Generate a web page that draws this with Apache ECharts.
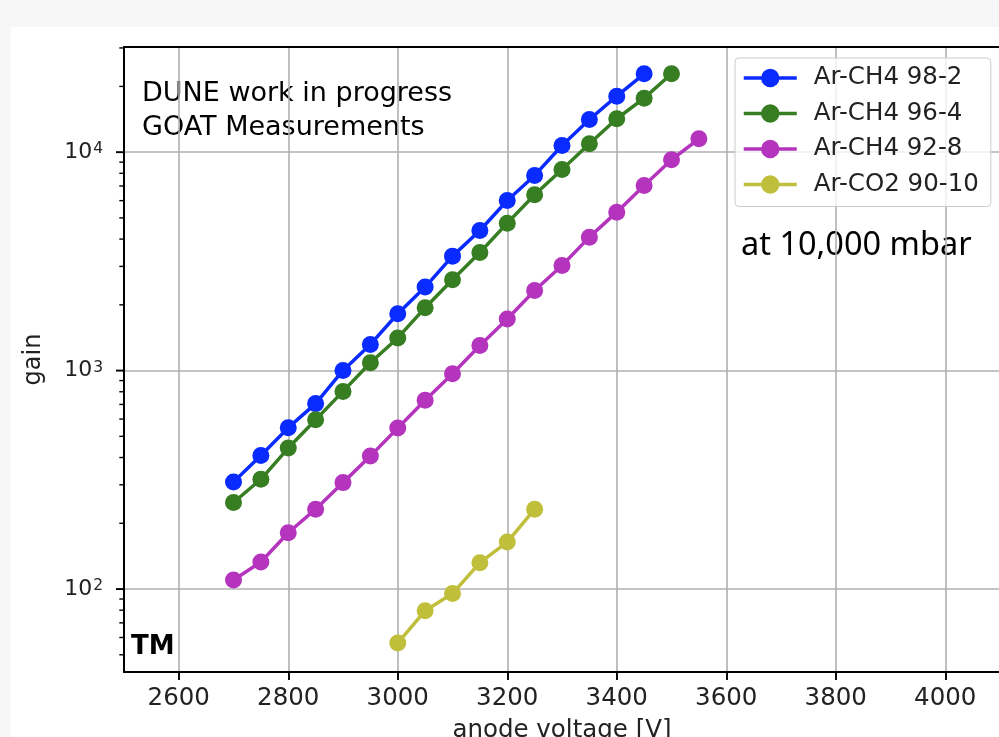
<!DOCTYPE html>
<html><head><meta charset="utf-8">
<script src="https://cdn.jsdelivr.net/npm/echarts@6/dist/echarts.min.js"></script>
<style>
html,body{margin:0;padding:0;background:#f7f7f7;overflow:hidden;}
#bg{position:absolute;left:11px;top:27px;width:988px;height:710px;background:#fff;}
#chart{position:absolute;left:0;top:0;width:999px;height:737px;}
</style></head><body>
<div id="bg"></div><div id="chart"></div>
<script>
// ---- data ----
const seriesNames = ['Ar-CH4 98-2', 'Ar-CH4 96-4', 'Ar-CH4 92-8', 'Ar-CO2 90-10'];
const volt982 = [2700,2750,2800,2850,2900,2950,3000,3050,3100,3150,3200,3250,3300,3350,3400,3450];
const gain982 = [309,409,548,706,1002,1318,1821,2411,3342,4381,6009,7824,10733,14115,18046,22848];
const volt964 = [2700,2750,2800,2850,2900,2950,3000,3050,3100,3150,3200,3250,3300,3350,3400,3450,3500];
const gain964 = [249,318,442,596,803,1087,1411,1941,2606,3475,4732,6383,8333,10925,14219,17667,22848];
const volt928 = [2700,2750,2800,2850,2900,2950,3000,3050,3100,3150,3200,3250,3300,3350,3400,3450,3500,3550];
const gain928 = [110,133,181,232,307,406,546,731,968,1304,1724,2328,3030,4083,5314,7040,9232,11515];
const voltCO2 = [3000,3050,3100,3150,3200,3250];
const gainCO2 = [56.6,79.6,95.3,132,164,232];
const xTickValues = [2600,2800,3000,3200,3400,3600,3800,4000];
const yMajorTicks = [100,1000,10000];
const yMinorTicks = [50,60,70,80,90,200,300,400,500,600,700,800,900,2000,3000,4000,5000,6000,7000,8000,9000,20000,30000];
const xRange = [2500, 4100];
const yRange = [41.7, 30300];
const colors = ['#0a2bff', '#377d22', '#b434be', '#c0bf3b'];

const zip = (xs, ys) => xs.map((x, i) => [x, ys[i]]);
const seriesData = [zip(volt982, gain982), zip(volt964, gain964), zip(volt928, gain928), zip(voltCO2, gainCO2)];

const FONT = 'DejaVu Sans';
const chart = echarts.init(document.getElementById('chart'), null, {renderer: 'canvas'});

const lineSeries = seriesData.map((d, i) => ({
  name: seriesNames[i], type: 'line', data: d,
  symbol: 'circle', symbolSize: 17,
  lineStyle: {color: colors[i], width: 3.5},
  itemStyle: {color: colors[i], borderWidth: 0},
  emphasis: {disabled: true}, z: 3 + i
}));

const tickData = yMajorTicks.map(v => [xRange[0], v, 1]).concat(yMinorTicks.map(v => [xRange[0], v, 0]));

const option = {
  animation: false,
  backgroundColor: 'transparent',
  grid: {left: 124, top: 47, width: 876, height: 625, show: false, containLabel: false, outerBoundsMode: 'none'},
  xAxis: [{
    type: 'value', min: xRange[0], max: xRange[1],
    axisLine: {show: true, onZero: false, lineStyle: {color: '#000', width: 2}},
    axisTick: {show: true, length: 8, lineStyle: {color: '#000', width: 1.9}, customValues: xTickValues},
    axisLabel: {customValues: xTickValues, margin: 14, fontSize: 24.5, fontFamily: FONT, color: '#222',
                formatter: v => String(v)},
    splitLine: {show: true, lineStyle: {color: '#b0b0b0', width: 1.6}},
    name: 'anode voltage [V]', nameLocation: 'middle', nameGap: 46,
    nameTextStyle: {fontSize: 24.5, fontFamily: FONT, color: '#222'}
  }, {
    type: 'value', position: 'top', min: xRange[0], max: xRange[1],
    axisLine: {show: true, onZero: false, lineStyle: {color: '#000', width: 2}},
    axisTick: {show: false}, axisLabel: {show: false}, splitLine: {show: false}
  }],
  yAxis: {
    type: 'log', logBase: 10, min: yRange[0], max: yRange[1],
    axisLine: {show: true, onZero: false, lineStyle: {color: '#000', width: 2}},
    axisTick: {show: false},
    axisLabel: {
      margin: 21,
      formatter: v => {
        const l = Math.log10(v), e = Math.round(l);
        if (Math.abs(l - e) > 1e-6) return '';
        return '{b|10}{s|' + e + '}';
      },
      rich: {
        b: {fontSize: 22, fontFamily: FONT, color: '#222', lineHeight: 22, verticalAlign: 'bottom', padding: [4, 0, 0, 0]},
        s: {fontSize: 15.5, fontFamily: FONT, color: '#222', lineHeight: 15, verticalAlign: 'top', padding: [0, 0, 0, 1]}
      }
    },
    splitLine: {show: true, lineStyle: {color: '#b0b0b0', width: 1.6}},
    name: 'gain', nameLocation: 'middle', nameGap: 78, nameRotate: 90,
    nameTextStyle: {fontSize: 24, fontFamily: FONT, color: '#222'}
  },
  legend: {
    data: seriesNames, orient: 'vertical', left: 735, top: 58,
    itemWidth: 53, itemHeight: 23, itemGap: 9.5,
    padding: [7, 12, 9, 7],
    backgroundColor: 'rgba(255,255,255,0.8)', borderColor: '#cccccc', borderWidth: 1, borderRadius: 4,
    lineStyle: {width: 3.5},
    textStyle: {fontSize: 24.5, fontFamily: FONT, color: '#222', lineHeight: 26, padding: [0, 0, 0, 12]},
    selectedMode: false
  },
  series: lineSeries.concat([{
    type: 'custom', name: 'yticks', data: tickData, clip: false, silent: true, z: 10,
    encode: {x: 0, y: 1},
    renderItem: (params, api) => {
      const p = api.coord([api.value(0), api.value(1)]);
      const major = api.value(2) === 1;
      const len = major ? 8 : 4.7;
      return {type: 'line', shape: {x1: p[0] - len, y1: p[1], x2: p[0], y2: p[1]},
              style: {stroke: '#000', lineWidth: major ? 1.9 : 1.4}, silent: true};
    }
  }]),
  graphic: [
    {type: 'text', x: 142, y: 94, style: {text: 'DUNE work in progress', fontSize: 27, fontFamily: FONT, fill: '#000', align: 'left', verticalAlign: 'middle'}},
    {type: 'text', x: 142, y: 128, style: {text: 'GOAT Measurements', fontSize: 27, fontFamily: FONT, fill: '#000', align: 'left', verticalAlign: 'middle'}},
    {type: 'text', x: 131, y: 647, style: {text: 'TM', fontSize: 26, fontWeight: 'bold', fontFamily: FONT, fill: '#000', align: 'left', verticalAlign: 'middle'}},
    {type: 'text', x: 741, y: 246, style: {text: 'at 10,000 mbar', fontSize: 32.5, fontFamily: 'Noto Sans', fill: '#000', align: 'left', verticalAlign: 'middle'}}
  ]
};
chart.setOption(option);
</script>
</body></html>
